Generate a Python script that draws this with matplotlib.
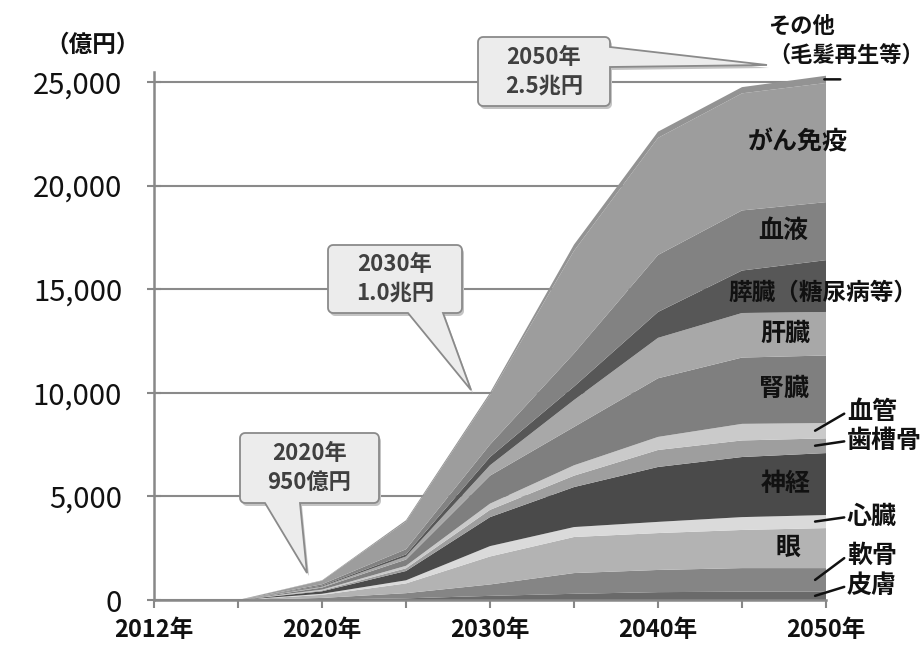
import numpy as np
import matplotlib
matplotlib.use("Agg")
import matplotlib.pyplot as plt
from matplotlib.patches import Polygon
from matplotlib.transforms import Affine2D
from matplotlib.ticker import FuncFormatter

plt.rcParams['font.family'] = ['Noto Sans CJK JP', 'DejaVu Sans']

# 年（カテゴリ軸）
years = ['2012年', '2015年', '2020年', '2025年', '2030年', '2035年', '2040年', '2045年', '2050年']
tick_labels = ['2012年', '', '2020年', '', '2030年', '', '2040年', '', '2050年']

# 分野別市場規模（億円）下から積み上げ順
hifu = [0, 0, 30, 80, 200, 300, 380, 400, 400]
nankotsu = [0, 0, 70, 250, 550, 1000, 1070, 1140, 1140]
me = [0, 0, 150, 470, 1350, 1740, 1780, 1840, 1930]
shinzo = [0, 0, 50, 150, 500, 480, 540, 620, 630]
shinkei = [0, 0, 120, 450, 1400, 1930, 2650, 2900, 2990]
shisokotsu = [0, 0, 40, 130, 350, 550, 820, 800, 710]
kekkan = [0, 0, 40, 120, 300, 500, 630, 800, 740]
jinzo = [0, 0, 100, 300, 1350, 1850, 2830, 3200, 3260]
kanzo = [0, 0, 50, 150, 500, 1300, 1950, 2150, 2100]
suizo = [0, 0, 40, 100, 400, 650, 1250, 2050, 2500]
ketsueki = [0, 0, 70, 250, 600, 1600, 2750, 2900, 2800]
gan = [0, 0, 170, 1330, 2400, 4950, 5650, 5650, 5750]
sonota = [0, 0, 20, 70, 100, 300, 300, 300, 350]

series = [hifu, nankotsu, me, shinzo, shinkei, shisokotsu, kekkan,
          jinzo, kanzo, suizo, ketsueki, gan, sonota]
names = ['皮膚', '軟骨', '眼', '心臓', '神経', '歯槽骨', '血管',
         '腎臓', '肝臓', '膵臓', '血液', 'がん免疫', 'その他']
colors = ['#6a6a6a', '#858585', '#b3b3b3', '#dadada', '#4a4a4a', '#9e9e9e', '#cacaca',
          '#7f7f7f', '#a8a8a8', '#575757', '#828282', '#9d9d9d', '#939393']

fig = plt.figure(figsize=(9.24, 6.45), dpi=100)
ax = fig.add_axes([154/924, 45/645, 672/924, 528/645])

x = np.arange(len(years))
ax.stackplot(x, *series, colors=colors, linewidth=0)

ax.set_xlim(0, len(years) - 1)
ax.set_ylim(0, 25480)
ax.set_yticks(range(0, 25001, 5000))
ax.yaxis.set_major_formatter(FuncFormatter(lambda v, p: f'{int(v):,}'))
ax.set_xticks(x)
ax.set_xticklabels(tick_labels, fontsize=17, fontweight='bold', color='#111111')
ax.tick_params(axis='y', direction='inout', length=10, width=1.5, color='#888888',
               labelsize=21, labelcolor='#111111', pad=18)
ax.tick_params(axis='x', direction='out', length=6, width=1.5, color='#888888', pad=7)
ax.grid(axis='y', color='#8a8a8a', linewidth=1.5)
ax.set_axisbelow(True)
for s in ['top', 'right']:
    ax.spines[s].set_visible(False)
for s in ['left', 'bottom']:
    ax.spines[s].set_color('#888888')
    ax.spines[s].set_linewidth(1.8)

fig.text(45/924, 1 - 45/645, '（億円）', fontsize=17, fontweight='bold',
         color='#111111', va='center', ha='left')

# 2050年時点の各層の中央値
last = np.array([s[-1] for s in series], dtype=float)
tops = np.cumsum(last)
mids = tops - last / 2
mid = dict(zip(names, mids))

inside = {'がん免疫': 7.66, '血液': 7.49, '肝臓': 7.52, '腎臓': 7.5, '神経': 7.52, '眼': 7.55}
for n, xi in inside.items():
    ax.text(xi, mid[n], n, ha='center', va='center', fontsize=18,
            fontweight='bold', color='#111111')
ax.text(6.84, mid['膵臓'] - 300, '膵臓（糖尿病等）', ha='left', va='center', fontsize=17,
        fontweight='bold', color='#111111', clip_on=False)

outside = {'血管': 900, '歯槽骨': 230, '心臓': 220, '軟骨': 1150, '皮膚': 475}
for n, off in outside.items():
    ax.annotate(n, xy=(7.87, mid[n]), xytext=(8.25, mid[n] + off),
                ha='left', va='center', fontsize=18, fontweight='bold', color='#111111',
                annotation_clip=False,
                arrowprops=dict(arrowstyle='-', color='#111111', lw=1.8,
                                relpos=(0, 0.5), shrinkA=0, shrinkB=0))

ax.annotate('', xy=(7.98, mid['その他']), xytext=(8.17, mid['その他']),
            annotation_clip=False,
            arrowprops=dict(arrowstyle='-', color='#111111', lw=1.8, shrinkA=0, shrinkB=0))
fig.text(768/924, 1 - 41/645, 'その他\n（毛髪再生等）', ha='left', va='center',
         fontsize=16, fontweight='bold', color='#111111', linespacing=1.3)

# 吹き出し（ピクセル座標、左上原点）
T = Affine2D().scale(0.01, -0.01).translate(0, 6.45) + fig.dpi_scale_trans


def arc(cx, cy, r, a0, a1):
    a = np.radians(np.linspace(a0, a1, 6))
    return list(zip(cx + r * np.cos(a), cy + r * np.sin(a)))


def bubble(x0, y0, x1, y1, side, b1, b2, tip, lines, r=5):
    pts = arc(x0 + r, y0 + r, r, 180, 270)
    pts += arc(x1 - r, y0 + r, r, 270, 360)
    if side == 'right':
        pts += [(x1, b1), tip, (x1, b2)]
    pts += arc(x1 - r, y1 - r, r, 0, 90)
    if side == 'bottom':
        pts += [(b2, y1), tip, (b1, y1)]
    pts += arc(x0 + r, y1 - r, r, 90, 180)
    pts = np.array(pts)
    fig.patches.append(Polygon(pts + [2, 3], closed=True, fc='#c4c4c4', ec='none',
                               transform=T, zorder=5))
    fig.patches.append(Polygon(pts, closed=True, fc='#ececec', ec='#8a8a8a', lw=1.3,
                               transform=T, zorder=6))
    fig.text((x0 + x1) / 2, (y0 + y1) / 2, lines, transform=T, ha='center', va='center',
             fontsize=16, fontweight='bold', color='#404040', linespacing=1.3, zorder=7)


bubble(478, 37, 610, 106, 'right', 47, 67, (767, 65), '2050年\n2.5兆円')
bubble(328, 245, 462, 313, 'bottom', 408, 443, (471, 390), '2030年\n1.0兆円')
bubble(240, 433, 379, 503, 'bottom', 265, 300, (307, 573), '2020年\n950億円')

fig.savefig('out.png', dpi=100)
